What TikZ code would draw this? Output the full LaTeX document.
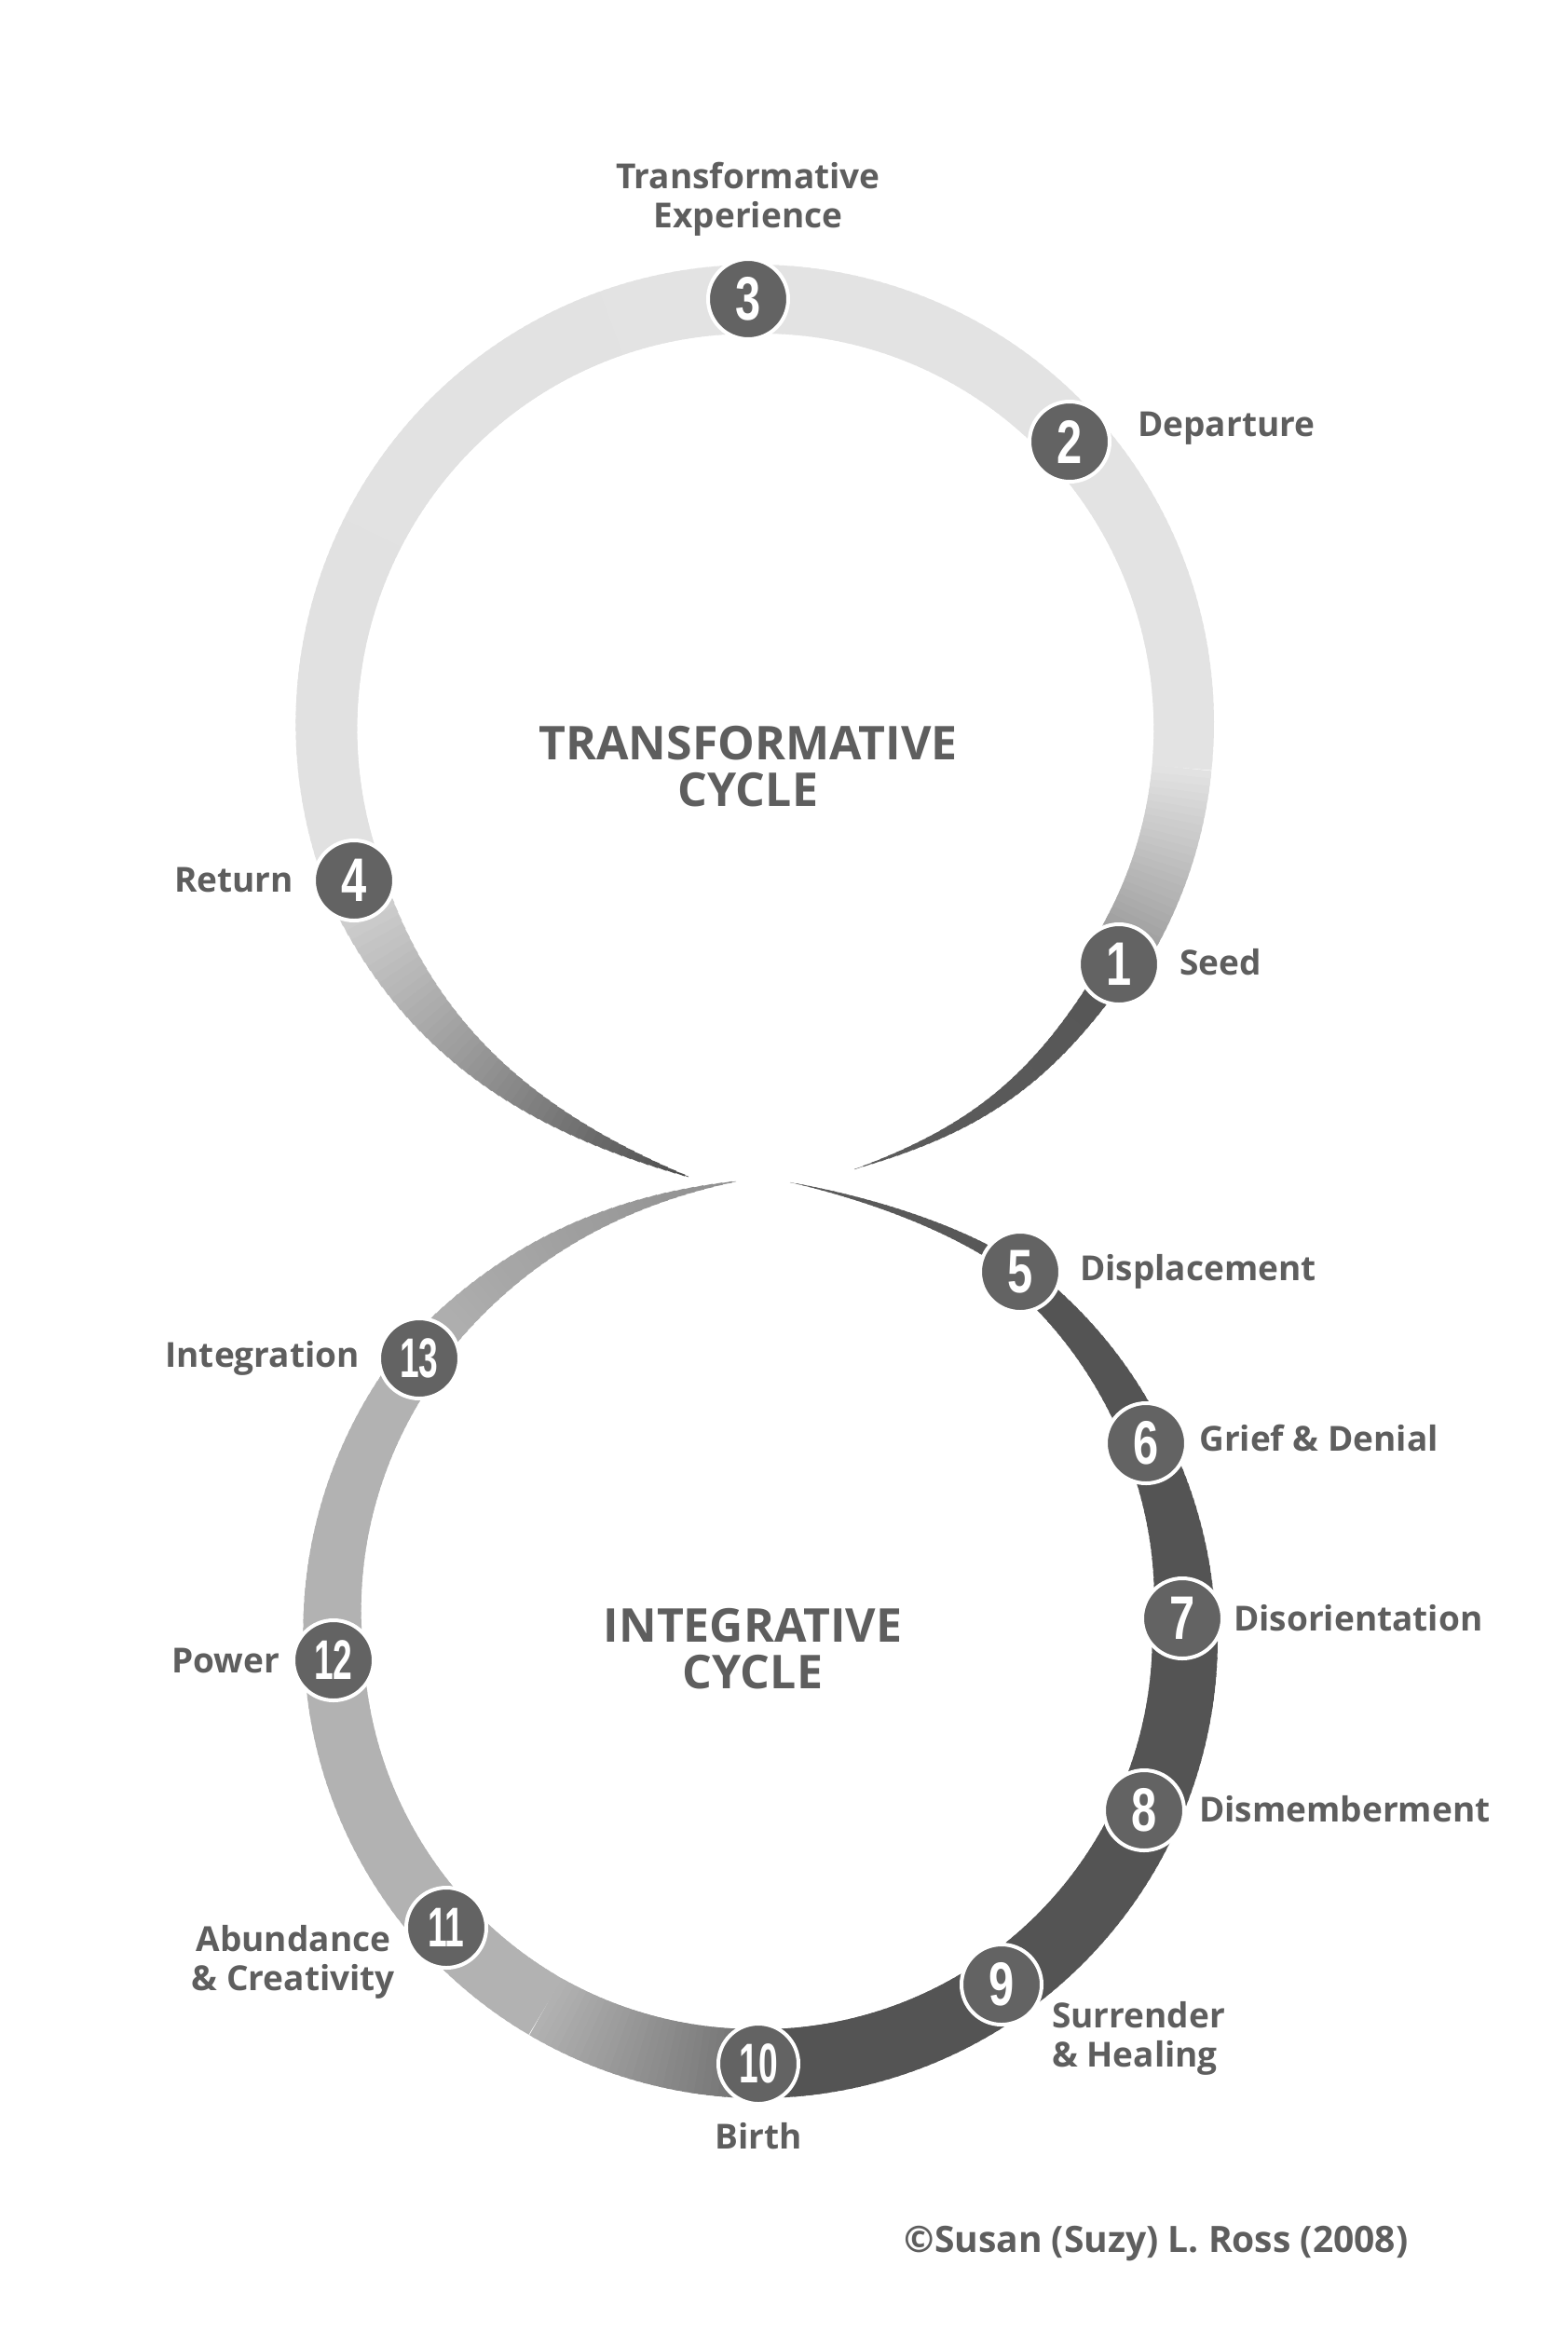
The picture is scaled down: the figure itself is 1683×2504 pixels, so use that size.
\documentclass[tikz,border=0pt]{standalone}
\usepackage{fontspec}
\setmainfont{Open Sans}
\newfontfamily\numfont{Liberation Sans}
\usepackage{graphicx}
\definecolor{txtc}{HTML}{5E5E5E}
\definecolor{badgec}{HTML}{636363}

% arc piece: (cx,cy)(a0,a1)(r0,r1)(w0,w1,g0,g1)
\def\arcseg(#1,#2)(#3,#4)(#5,#6)(#7){\def\sgCx{#1}\def\sgCy{#2}\def\sgAa{#3}\def\sgAb{#4}\def\sgRa{#5}\def\sgRb{#6}\arcsegii(#7)}
\def\arcsegii(#1,#2,#3,#4){%
  \pgfmathtruncatemacro\sgN{max(3,ceil(abs((\sgAb)-(\sgAa))))}%
  \foreach \i in {1,...,\sgN}{%
    \pgfmathsetmacro\sgTa{(\i-1)/\sgN}%
    \pgfmathsetmacro\sgTb{min(1,(\i+0.6)/\sgN)}%
    \pgfmathsetmacro\sgTm{(\i-0.5)/\sgN}%
    \pgfmathsetmacro\sgXa{(\sgCx)+((\sgRa)+((\sgRb)-(\sgRa))*\sgTa)*cos((\sgAa)+((\sgAb)-(\sgAa))*\sgTa)}%
    \pgfmathsetmacro\sgYa{(\sgCy)+((\sgRa)+((\sgRb)-(\sgRa))*\sgTa)*sin((\sgAa)+((\sgAb)-(\sgAa))*\sgTa)}%
    \pgfmathsetmacro\sgXb{(\sgCx)+((\sgRa)+((\sgRb)-(\sgRa))*\sgTb)*cos((\sgAa)+((\sgAb)-(\sgAa))*\sgTb)}%
    \pgfmathsetmacro\sgYb{(\sgCy)+((\sgRa)+((\sgRb)-(\sgRa))*\sgTb)*sin((\sgAa)+((\sgAb)-(\sgAa))*\sgTb)}%
    \pgfmathsetmacro\sgW{(#1)+((#2)-(#1))*\sgTm}%
    \pgfmathsetmacro\sgG{(#3)+((#4)-(#3))*\sgTm}%
    \definecolor{sgc}{gray}{\sgG}%
    \draw[draw=sgc,line width=\sgW pt] (\sgXa,\sgYa) -- (\sgXb,\sgYb);
  }}

% bezier piece: (p0)(p1)(p2)(p3)(w0,w1,g0,g1,N)
\def\bezseg(#1,#2)(#3,#4)(#5,#6)(#7,#8)(#9){\def\bzAx{#1}\def\bzAy{#2}\def\bzBx{#3}\def\bzBy{#4}\def\bzCx{#5}\def\bzCy{#6}\def\bzDx{#7}\def\bzDy{#8}\bezsegii(#9)}
\def\bzpt#1{%
  \pgfmathsetmacro\bzU{1-(#1)}%
  \pgfmathsetmacro\bzX{\bzU*\bzU*\bzU*(\bzAx)+3*\bzU*\bzU*(#1)*(\bzBx)+3*\bzU*(#1)*(#1)*(\bzCx)+(#1)*(#1)*(#1)*(\bzDx)}%
  \pgfmathsetmacro\bzY{\bzU*\bzU*\bzU*(\bzAy)+3*\bzU*\bzU*(#1)*(\bzBy)+3*\bzU*(#1)*(#1)*(\bzCy)+(#1)*(#1)*(#1)*(\bzDy)}}
\def\bezsegii(#1,#2,#3,#4,#5){%
  \foreach \i in {1,...,#5}{%
    \pgfmathsetmacro\sgTa{(\i-1)/#5}%
    \pgfmathsetmacro\sgTb{min(1,(\i+0.6)/#5)}%
    \pgfmathsetmacro\sgTm{(\i-0.5)/#5}%
    \bzpt{\sgTa}\let\sgXa\bzX\let\sgYa\bzY
    \bzpt{\sgTb}\let\sgXb\bzX\let\sgYb\bzY
    \pgfmathsetmacro\sgW{(#1)+((#2)-(#1))*\sgTm}%
    \pgfmathsetmacro\sgG{(#3)+((#4)-(#3))*\sgTm}%
    \definecolor{sgc}{gray}{\sgG}%
    \draw[draw=sgc,line width=\sgW pt] (\sgXa,\sgYa) -- (\sgXb,\sgYb);
  }}

\tikzset{
  badge/.style={circle, fill=badgec, draw=white, line width=4pt, minimum size=86pt, inner sep=0pt, text=white,
    font=\numfont\bfseries\fontsize{66}{66}\selectfont},
  badgetwo/.style={badge, font=\numfont\bfseries\fontsize{60}{60}\selectfont},
  lab/.style={text=txtc, inner sep=0pt, font=\bfseries\fontsize{37}{42}\selectfont},
  title/.style={text=txtc, inner sep=0pt, align=center, font=\bfseries\fontsize{50}{50}\selectfont}
}

\begin{document}
\begin{tikzpicture}[x=1pt,y=-1pt]
\fill[white] (0,0) rectangle (1683,2504);
\useasboundingbox (0,0) rectangle (1683,2504);

% ---------- top (transformative) circle ----------
\bezseg(917,1255)(1045,1213)(1115,1162)(1190,1050)(0,30,0.36,0.34,40)
\arcseg(811,776)(36,30)(464,462)(60,62,0.62,0.62)
\arcseg(811,776)(30,6)(462,460)(62,64,0.62,0.89)
\arcseg(811,776)(6,-91)(460,455)(64,74,0.89,0.89)
\arcseg(811,776)(-91,-201.4)(455,462)(74,64,0.89,0.88)
\bezseg(380,945)(449,1122)(579,1207)(739,1263)(64,0,0.84,0.30,50)

% ---------- bottom (integrative) circle ----------
\bezseg(848,1269)(936,1287)(1019,1317)(1075,1352)(0,14,0.36,0.34,40)
\arcseg(814,1758)(-54.4,-26.7)(480,466)(28,46,0.33,0.33)
\arcseg(814,1758)(-26.7,-2.6)(466,458)(48,66,0.33,0.33)
\arcseg(814,1758)(-2.6,92)(458,457)(70,74,0.33,0.33)
\arcseg(814,1758)(92,120)(457,457)(74,70,0.45,0.70)
\arcseg(814,1758)(120,177)(457,456)(70,64,0.70,0.70)
\arcseg(814,1758)(177,219.5)(456,470)(64,48,0.70,0.70)
\bezseg(450,1458)(539,1350)(652,1290)(790,1268)(42,0,0.70,0.56,40)

% ---------- badges ----------
\node[badge] (b1) at (1201,1035) {\scalebox{0.74}[1]{1}};
\node[badge] (b2) at (1148,474) {\scalebox{0.74}[1]{2}};
\node[badge] (b3) at (803,321) {\scalebox{0.74}[1]{3}};
\node[badge] (b4) at (380,945) {\scalebox{0.74}[1]{4}};
\node[badge] (b5) at (1095,1365) {\scalebox{0.74}[1]{5}};
\node[badge] (b6) at (1230,1549) {\scalebox{0.74}[1]{6}};
\node[badge] (b7) at (1269,1737) {\scalebox{0.74}[1]{7}};
\node[badge] (b8) at (1228,1943) {\scalebox{0.74}[1]{8}};
\node[badge] (b9) at (1075,2130) {\scalebox{0.74}[1]{9}};
\node[badgetwo] (b10) at (814,2215) {\scalebox{0.62}[1]{10}};
\node[badgetwo] (b11) at (479,2069) {\scalebox{0.62}[1]{11}};
\node[badgetwo] (b12) at (358,1782) {\scalebox{0.62}[1]{12}};
\node[badgetwo] (b13) at (450,1458) {\scalebox{0.62}[1]{13}};

% ---------- labels ----------
\node[lab, align=center] (l3) at (803,214) {Transformative\\Experience};
\node[lab, anchor=west] (l2) at (1221,460) {Departure};
\node[lab, anchor=west] (l1) at (1266,1033) {Seed};
\node[lab, anchor=east] (l4) at (315,944) {Return};
\node[lab, anchor=west] (l5) at (1159,1365) {Displacement};
\node[lab, anchor=west] (l6) at (1287,1544) {Grief \& Denial};
\node[lab, anchor=west] (l7) at (1324,1737) {Disorientation};
\node[lab, anchor=west] (l8) at (1287,1942) {Dismemberment};
\node[lab, anchor=west, align=left] (l9) at (1129,2188) {Surrender\\\& Healing};
\node[lab] (l10) at (814,2293) {Birth};
\node[lab, align=center] (l11) at (315,2106) {Abundance\\\& Creativity};
\node[lab, anchor=east] (l12) at (300,1782) {Power};
\node[lab, anchor=east] (l13) at (386,1458) {Integration};

\node[title] (t1) at (803,823) {TRANSFORMATIVE\\CYCLE};
\node[title] (t2) at (808,1770) {INTEGRATIVE\\CYCLE};

\node[lab, font=\bfseries\fontsize{39}{42}\selectfont] (copy) at (1241,2408) {©Susan (Suzy) L. Ross (2008)};
\end{tikzpicture}
\end{document}
